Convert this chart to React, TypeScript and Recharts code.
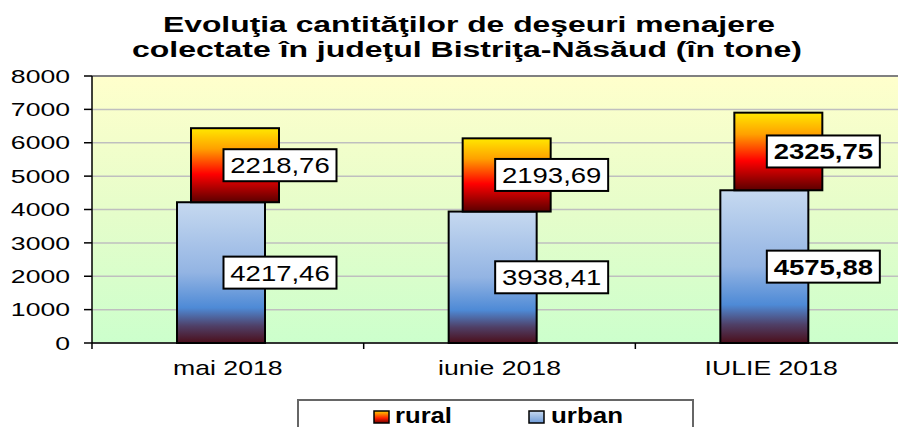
import React from 'react';
import { BarChart, Bar, XAxis, YAxis, CartesianGrid, LabelList, ReferenceLine } from 'recharts';

const categories = ['mai 2018', 'iunie 2018', 'IULIE 2018'];
const urban = [4217.46, 3938.41, 4575.88];
const rural = [2218.76, 2193.69, 2325.75];
const yTicks = [0, 1000, 2000, 3000, 4000, 5000, 6000, 7000, 8000];
const boldIndex = [2];

const titleLines = ['Evoluţia cantităţilor de deşeuri menajere', 'colectate în judeţul Bistriţa-Năsăud (în tone)'];

const data = categories.map((c, i) => ({ name: c, urban: urban[i], rural: rural[i] }));

const FONT = "Arial, 'Liberation Sans', sans-serif";
const BAND = 271.7;

const fmt = (v: number) => v.toFixed(2).replace('.', ',');

const YTick = (props: any) => {
  const { x, y, payload } = props;
  return (
    <g transform={`translate(${x},${y})`}>
      <text transform="scale(1.43,1)" textAnchor="end" dy="0.36em" fontFamily={FONT} fontSize={18.6} fill="#000">
        {payload.value}
      </text>
    </g>
  );
};

const XTick = (props: any) => {
  const { x, y, payload, index } = props;
  return (
    <g>
      {index === 0 && <line x1={x - BAND / 2} x2={x - BAND / 2} y1={y - 6} y2={y} stroke="#000" strokeWidth={1.5} />}
      <line x1={x + BAND / 2} x2={x + BAND / 2} y1={y - 6} y2={y} stroke="#000" strokeWidth={1.5} />
      <g transform={`translate(${x},${y + 26})`}>
        <text transform="scale(1.3,1)" textAnchor="middle" fontFamily={FONT} fontSize={20.5} fill="#000">
          {payload.value}
        </text>
      </g>
    </g>
  );
};

const ValueLabel = (props: any) => {
  const { x, y, width, height, value, index } = props;
  const cx = x + width + 8;
  const cy = y + height / 2;
  const bold = boldIndex.includes(index);
  return (
    <g>
      <rect x={cx - 56.5} y={cy - 16} width={113} height={32} fill="#fff" stroke="#000" strokeWidth={2} />
      <g transform={`translate(${cx},${cy})`}>
        <text
          transform="scale(1.25,1)"
          textAnchor="middle"
          dy="0.36em"
          fontFamily={FONT}
          fontSize={22}
          fontWeight={bold ? 'bold' : 'normal'}
          fill="#000"
        >
          {fmt(value)}
        </text>
      </g>
    </g>
  );
};

const offsetShape = (off: number, fill: string) => (p: any) => (
  <rect x={p.x + off} y={p.y} width={p.width} height={p.height} fill={fill} stroke="#000" strokeWidth={2} />
);

export default function App() {
  return (
    <div style={{ position: 'absolute', left: 0, top: 0, width: 898, height: 427, overflow: 'hidden', background: '#fff' }}>
      <BarChart width={920} height={427} data={data} margin={{ top: 76, right: 13, left: 0, bottom: 54 }}>
        <defs>
          <linearGradient id="bgGrad" x1="0" y1="0" x2="0" y2="1">
            <stop offset="0%" stopColor="#FFFFCC" />
            <stop offset="50%" stopColor="#E6FDCA" />
            <stop offset="100%" stopColor="#CCFFCC" />
          </linearGradient>
          <linearGradient id="urbanGrad" x1="0" y1="0" x2="0" y2="1">
            <stop offset="0%" stopColor="#C6D9F0" />
            <stop offset="50%" stopColor="#93B4E3" />
            <stop offset="75%" stopColor="#4E8AD6" />
            <stop offset="88%" stopColor="#4F3F66" />
            <stop offset="100%" stopColor="#4B0E1A" />
          </linearGradient>
          <linearGradient id="ruralGrad" x1="0" y1="0" x2="0" y2="1">
            <stop offset="0%" stopColor="#FFE800" />
            <stop offset="28%" stopColor="#FFA000" />
            <stop offset="62%" stopColor="#FF0000" />
            <stop offset="100%" stopColor="#5A0000" />
          </linearGradient>
        </defs>
        <CartesianGrid vertical={false} stroke="#BFBFBF" strokeWidth={1.5} fill="url(#bgGrad)" fillOpacity={1} />
        <XAxis
          dataKey="name"
          height={30}
          axisLine={{ stroke: '#000', strokeWidth: 1.5 }}
          tickLine={false}
          tickSize={6}
          tickMargin={0}
          tick={<XTick />}
          interval={0}
        />
        <YAxis
          width={92}
          domain={[0, 8000]}
          ticks={yTicks}
          interval={0}
          axisLine={{ stroke: '#000', strokeWidth: 1.5 }}
          tickLine={{ stroke: '#000', strokeWidth: 1.5 }}
          tickSize={8}
          tickMargin={14}
          tick={<YTick />}
        />
        <ReferenceLine y={8000} stroke="#808080" strokeWidth={2} />
        <Bar dataKey="urban" stackId="a" barSize={88} isAnimationActive={false} shape={offsetShape(-7, 'url(#urbanGrad)')}>
          <LabelList dataKey="urban" content={<ValueLabel />} />
        </Bar>
        <Bar dataKey="rural" stackId="a" barSize={88} isAnimationActive={false} shape={offsetShape(7, 'url(#ruralGrad)')}>
          <LabelList dataKey="rural" content={<ValueLabel />} />
        </Bar>
      </BarChart>
      <svg width={898} height={427} style={{ position: 'absolute', left: 0, top: 0, pointerEvents: 'none' }}>
        <defs>
          <linearGradient id="legU" x1="0" y1="0" x2="0" y2="1">
            <stop offset="0%" stopColor="#C6D9F0" />
            <stop offset="100%" stopColor="#6E9BD8" />
          </linearGradient>
          <linearGradient id="legR" x1="0" y1="0" x2="0" y2="1">
            <stop offset="0%" stopColor="#FFD000" />
            <stop offset="60%" stopColor="#FF2000" />
            <stop offset="100%" stopColor="#700000" />
          </linearGradient>
        </defs>
        <text x={469} y={32} textAnchor="middle" fontFamily={FONT} fontSize={22} fontWeight="bold" textLength={612} lengthAdjust="spacingAndGlyphs">
          {titleLines[0]}
        </text>
        <text x={467} y={57} textAnchor="middle" fontFamily={FONT} fontSize={22} fontWeight="bold" textLength={670} lengthAdjust="spacingAndGlyphs">
          {titleLines[1]}
        </text>
        <rect x={298} y={400} width={395} height={40} fill="#fff" stroke="#666" strokeWidth={2} />
        <rect x={374} y={411} width={15} height={12} fill="url(#legR)" stroke="#000" strokeWidth={1.5} />
        <text x={395} y={423} fontFamily={FONT} fontSize={22} fontWeight="bold" textLength={57} lengthAdjust="spacingAndGlyphs">
          rural
        </text>
        <rect x={529} y={411} width={15} height={12} fill="url(#legU)" stroke="#000" strokeWidth={1.5} />
        <text x={551} y={423} fontFamily={FONT} fontSize={22} fontWeight="bold" textLength={72} lengthAdjust="spacingAndGlyphs">
          urban
        </text>
      </svg>
    </div>
  );
}
